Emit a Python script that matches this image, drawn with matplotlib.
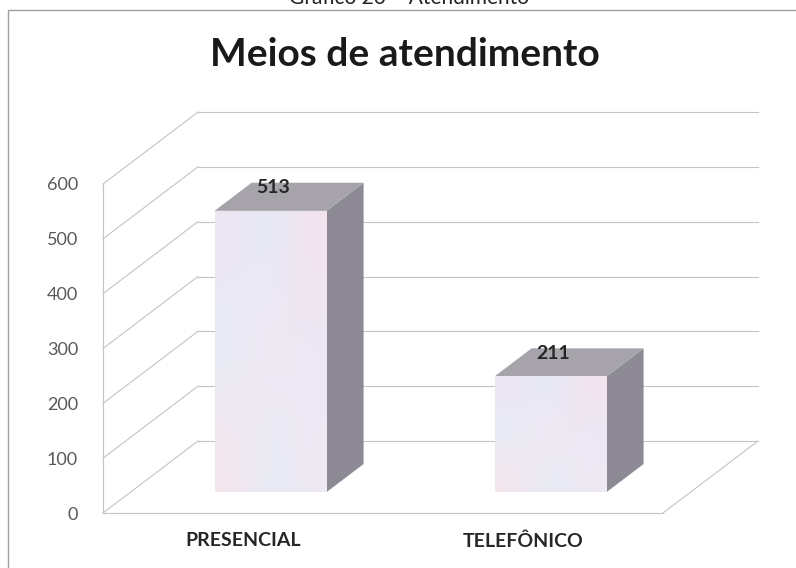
import numpy as np
import matplotlib
matplotlib.use("Agg")
import matplotlib.pyplot as plt
from matplotlib.patches import Polygon, Rectangle

# dados do gráfico
categorias = ["PRESENCIAL", "TELEFÔNICO"]
valores = [513, 211]
ticks_y = [0, 100, 200, 300, 400, 500, 600]

FONTE = ["Lato", "DejaVu Sans"]

W, H = 796, 568
fig = plt.figure(figsize=(W / 100, H / 100), dpi=100)

# moldura cinza do gráfico
fig.patches.append(Rectangle((8 / W, -0.1), 1.2, 1.1 - 10 / H, transform=fig.transFigure,
                             fill=False, edgecolor="#a0a0a0", linewidth=1.0))

# legenda cortada no topo da página
fig.text(409 / W, 1 - 4 / H, "Gráfico 20 – Atendimento", ha="center", va="baseline",
         fontsize=15, family=FONTE, color="#222222")

fig.text(405 / W, 1 - 66 / H, "Meios de atendimento", ha="center", va="baseline",
         fontsize=28, fontweight="bold", family=FONTE, color="#1a1a1a")

# área da parede frontal (pixels): x 103..663, y 513 (0) .. 184 (600)
x0, x1, y0, y600 = 103, 663, 513, 184
ax = fig.add_axes([x0 / W, (H - y0) / H, (x1 - x0) / W, (y0 - y600) / H])

# deslocamento de profundidade em unidades de dados
dxd = 95 / ((x1 - x0) / 2)
dyd = 72 / ((y0 - y600) / 600)

grid_cor = "#c4c4c4"
for v in ticks_y:
    ax.plot([-0.5, -0.5 + dxd], [v, v + dyd], color=grid_cor, lw=0.8, clip_on=False, zorder=1)
    ax.plot([-0.5 + dxd, 1.5 + dxd], [v + dyd, v + dyd], color=grid_cor, lw=0.8,
            clip_on=False, zorder=1)
# borda direita do piso
ax.plot([1.5, 1.5 + dxd], [0, dyd], color=grid_cor, lw=0.8, clip_on=False, zorder=1)

# colunas 3D
larg = 0.4
f_prof, b_prof = 0.29, 0.68
fdx, fdy = f_prof * dxd, f_prof * dyd
bdx, bdy = b_prof * dxd, b_prof * dyd

grad = np.array([
    [[0.93, 0.90, 0.95], [0.89, 0.92, 0.97], [0.96, 0.89, 0.93]],
    [[0.90, 0.93, 0.97], [0.96, 0.90, 0.94], [0.91, 0.91, 0.96]],
    [[0.96, 0.90, 0.93], [0.90, 0.93, 0.97], [0.94, 0.91, 0.95]],
])

for i, v in enumerate(valores):
    xl, xr = i - larg / 2, i + larg / 2
    frente = [(xl + fdx, fdy), (xr + fdx, fdy), (xr + fdx, v + fdy), (xl + fdx, v + fdy)]
    lado = [(xr + fdx, fdy), (xr + bdx, bdy), (xr + bdx, v + bdy), (xr + fdx, v + fdy)]
    topo = [(xl + fdx, v + fdy), (xr + fdx, v + fdy), (xr + bdx, v + bdy), (xl + bdx, v + bdy)]

    pf = Polygon(frente, closed=True, facecolor="#ebe8ef", edgecolor="none",
                 clip_on=False, zorder=3)
    ax.add_patch(pf)
    im = ax.imshow(grad, extent=(xl + fdx, xr + fdx, fdy, v + fdy), aspect="auto",
                   interpolation="bicubic", zorder=3.5)
    im.set_clip_path(pf)
    ax.add_patch(Polygon(lado, closed=True, facecolor="#8d8995", edgecolor="none",
                         clip_on=False, zorder=3))
    ax.add_patch(Polygon(topo, closed=True, facecolor="#a6a3ab", edgecolor="none",
                         clip_on=False, zorder=3))
    ax.text(i + 0.107, v + fdy + 42, str(v), ha="center", va="center", fontsize=14,
            fontweight="bold", family=FONTE, color="#262626", zorder=5, clip_on=False)

ax.set_xlim(-0.5, 1.5)
ax.set_ylim(0, 600)

ax.set_yticks(ticks_y)
ax.set_yticklabels([str(t) for t in ticks_y], fontsize=13, family=FONTE, color="#595959")
ax.set_xticks(range(len(categorias)))
ax.set_xticklabels(categorias, fontsize=14, fontweight="bold", family=FONTE, color="#262626")
ax.tick_params(axis="y", length=0, pad=18)
ax.tick_params(axis="x", length=0, pad=14)

for lado_sp in ["top", "right"]:
    ax.spines[lado_sp].set_visible(False)
ax.spines["left"].set_color(grid_cor)
ax.spines["bottom"].set_color(grid_cor)
ax.spines["left"].set_linewidth(0.8)
ax.spines["bottom"].set_linewidth(0.8)
ax.patch.set_alpha(0)

fig.savefig("out.png", dpi=100)
